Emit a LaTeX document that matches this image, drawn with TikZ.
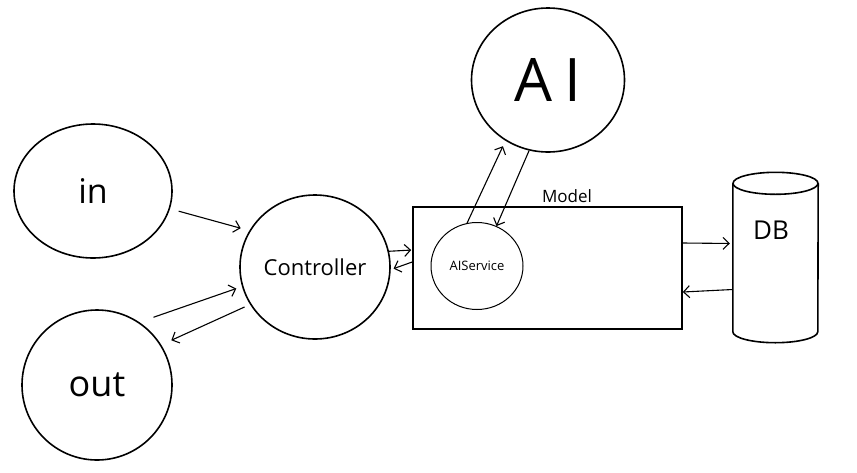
\documentclass[tikz,border=0pt]{standalone}
\usepackage{fontspec}
\setmainfont{Open Sans}
\usetikzlibrary{shapes.geometric,arrows.meta}
\begin{document}
\begin{tikzpicture}[x=1pt,y=-1pt,
  circ/.style={draw, ellipse, line width=1.6pt, inner sep=0pt},
  arr/.style={line width=1.1pt, -{Straight Barb[length=6pt,width=12pt]}},
  box/.style={draw, rectangle, line width=1.6pt, inner sep=0pt},
]
\useasboundingbox (0,0) rectangle (857,472);
\fill[white] (0,0) rectangle (857,472);
% nodes
\node[circ, minimum width=158pt, minimum height=134pt, font=\fontsize{34}{34}\selectfont] (in) at (93,191) {in};
\node[circ, minimum width=150pt, minimum height=150pt, font=\fontsize{36}{36}\selectfont] (out) at (97,385) {out};
\node[circ, minimum width=150pt, minimum height=144pt, font=\fontsize{22}{22}\selectfont] (ctrl) at (315,267) {Controller};
\node[circ, minimum width=153pt, minimum height=144pt, font=\fontsize{60}{60}\selectfont] (ai) at (548,80) {A\hspace{12pt}I};
\node[box, minimum width=269pt, minimum height=122pt] (model) at (547.5,268) {};
\node[circ, line width=1pt, minimum width=92pt, minimum height=87pt, font=\fontsize{13}{13}\selectfont] (aisvc) at (477,266) {AIService};
\node[font=\fontsize{17}{17}\selectfont] (mlabel) at (567,196) {Model};
\node[minimum width=85pt, minimum height=170pt, inner sep=0pt] (db) at (775.5,257.5) {};
\node[font=\fontsize{26}{26}\selectfont] (dbtext) at (771,230) {DB};
% DB cylinder
\draw[line width=1.6pt] ([yshift=-11pt]db.north) ellipse [x radius=42.5pt, y radius=11pt];
\draw[line width=1.6pt] ([yshift=-11pt]db.north west) -- ([yshift=11pt]db.south west)
  arc[start angle=180, end angle=360, x radius=42.5pt, y radius=11pt] -- ([yshift=-11pt]db.north east);
% connectors
\draw[arr, shorten <=9pt, shorten >=9pt] (in.-13) -- (ctrl.151);
\draw[arr, shorten <=15pt, shorten >=6pt] (out.56) -- (ctrl.195);
\draw[arr, shorten <=6pt, shorten >=11pt] (ctrl.210) -- (out.32);
\draw[arr, shorten >=1pt] (ctrl.12) -- ([yshift=18pt]model.west);
\draw[arr, shorten >=3pt] ([yshift=6pt]model.west) -- (ctrl.-2);
\draw[arr, shorten >=6pt] (aisvc.103) -- (ai.-125);
\draw[arr] (ai.-105) -- (aisvc.64);
\draw[arr, shorten >=3pt] ([yshift=25pt]model.east) -- ([yshift=14pt]db.west);
\draw[arr] ([yshift=-32pt]db.west) -- ([yshift=-24pt]model.east);
\end{tikzpicture}
\end{document}
